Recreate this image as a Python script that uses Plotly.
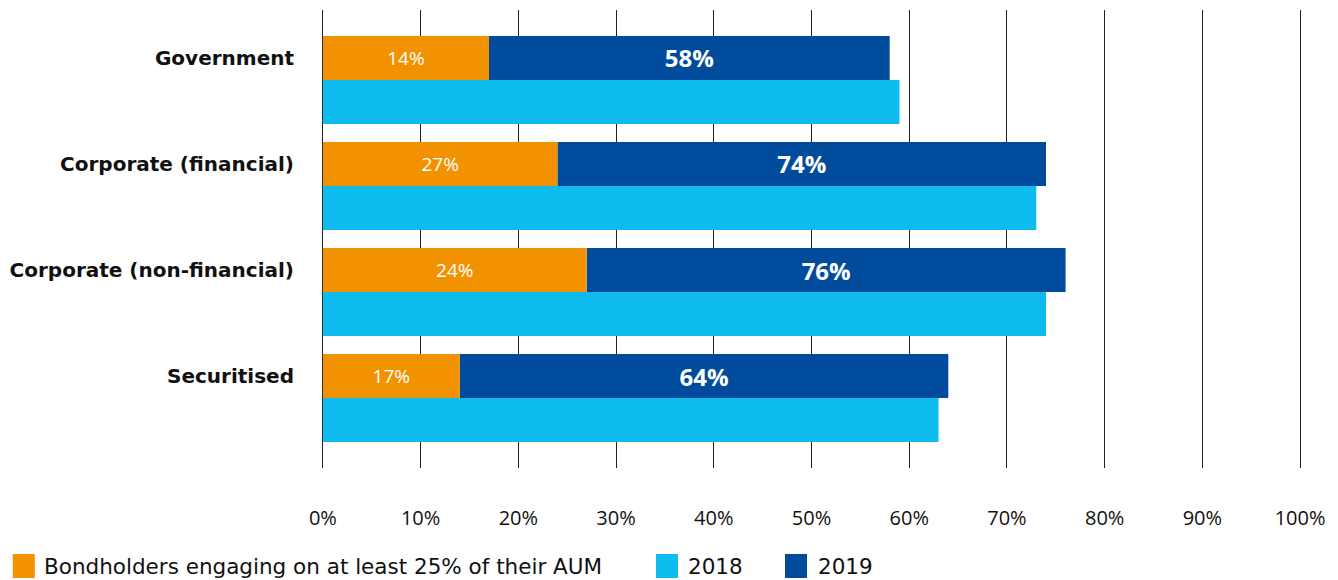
import plotly.graph_objects as go

categories = ["Government", "Corporate (financial)", "Corporate (non-financial)", "Securitised"]
engaging_bar = [17, 24, 27, 14]          # orange bar lengths as drawn
engaging_labels = ["14%", "27%", "24%", "17%"]
values_2019 = [58, 74, 76, 64]
values_2018 = [59, 73, 74, 63]
tick_vals = [0, 10, 20, 30, 40, 50, 60, 70, 80, 90, 100]
tick_text = [f"{v}%" for v in tick_vals]
legend_names = ["Bondholders engaging on at least 25% of their AUM", "2018", "2019"]

ORANGE = "#F39200"
LIGHT = "#0DBBEE"
DARK = "#004B9B"
COLORS = [ORANGE, LIGHT, DARK]

FIG_W, FIG_H = 1338, 580
OFF = 8  # page body margin

# plot geometry (figure px)
X_MIN, X_MAX = -0.5, 100.5
PX_PER = 9.77
L = 323 - OFF - (0 - X_MIN) * PX_PER
R = FIG_W - (1300 - OFF + (X_MAX - 100) * PX_PER)
T = 10 - OFF
B = FIG_H - (468 - OFF)
W = FIG_W - L - R
H = FIG_H - T - B

h = 0.415
idx = list(range(len(categories)))
y_top = [i - h / 2 for i in idx]
y_bot = [i + h / 2 for i in idx]

fig = go.Figure()

fig.add_trace(go.Bar(
    y=y_top, x=[t - o for t, o in zip(values_2019, engaging_bar)], base=engaging_bar,
    orientation="h", width=h, marker=dict(color=DARK, line=dict(width=0)),
    name="2019", text=[f"{v}%" for v in values_2019], textposition="inside",
    insidetextanchor="middle", constraintext="none",
    textfont=dict(family="Open Sans", size=24, color="white", weight="bold"),
    hoverinfo="skip",
))
fig.add_trace(go.Bar(
    y=y_top, x=engaging_bar, orientation="h", width=h,
    marker=dict(color=ORANGE, line=dict(width=0)),
    name=legend_names[0],
    text=engaging_labels, textposition="inside", insidetextanchor="middle",
    constraintext="none",
    textfont=dict(family="Open Sans", size=19, color="white"),
    hoverinfo="skip",
))
fig.add_trace(go.Bar(
    y=y_bot, x=values_2018, orientation="h", width=h,
    marker=dict(color=LIGHT, line=dict(width=0)),
    name="2018", hoverinfo="skip",
))


def px_to_paper(sx, sy):
    return (sx - OFF - L) / W, 1 - (sy - OFF - T) / H


# manual legend (large swatches like the reference)
swatch_x = [13, 656, 785]
text_x = [42, 686, 816]
for sx, tx, name, col in zip(swatch_x, text_x, legend_names, COLORS):
    x0, y0 = px_to_paper(sx, 554)
    x1, y1 = px_to_paper(sx + 22, 578)
    fig.add_shape(type="rect", xref="paper", yref="paper", x0=x0, x1=x1, y0=y1, y1=y0,
                  fillcolor=col, line=dict(width=0), layer="above")
    ax, ay = px_to_paper(tx, 566)
    fig.add_annotation(xref="paper", yref="paper", x=ax, y=ay, text=name,
                       showarrow=False, xanchor="left", yanchor="middle",
                       font=dict(family="DejaVu Sans", size=21.5, color="#111111"))

fig.update_layout(
    width=FIG_W, height=FIG_H,
    margin=dict(l=L, r=R, t=T, b=B, autoexpand=False),
    plot_bgcolor="white", paper_bgcolor="white",
    barmode="overlay",
    showlegend=False,
    xaxis=dict(
        range=[X_MIN, X_MAX], tickvals=tick_vals, ticktext=tick_text,
        showgrid=True, gridcolor="#222222", gridwidth=1,
        zeroline=False, showline=False, ticks="",
        ticklabelstandoff=36,
        tickfont=dict(family="Open Sans", size=20, color="#111111"),
    ),
    yaxis=dict(
        range=[3.66, -0.66], tickvals=y_top, ticktext=categories,
        showgrid=False, zeroline=False, showline=False, ticks="",
        ticklabelstandoff=23,
        tickfont=dict(family="DejaVu Sans", size=20, color="#111111", weight="bold"),
    ),
)

fig.write_html("out.html")
